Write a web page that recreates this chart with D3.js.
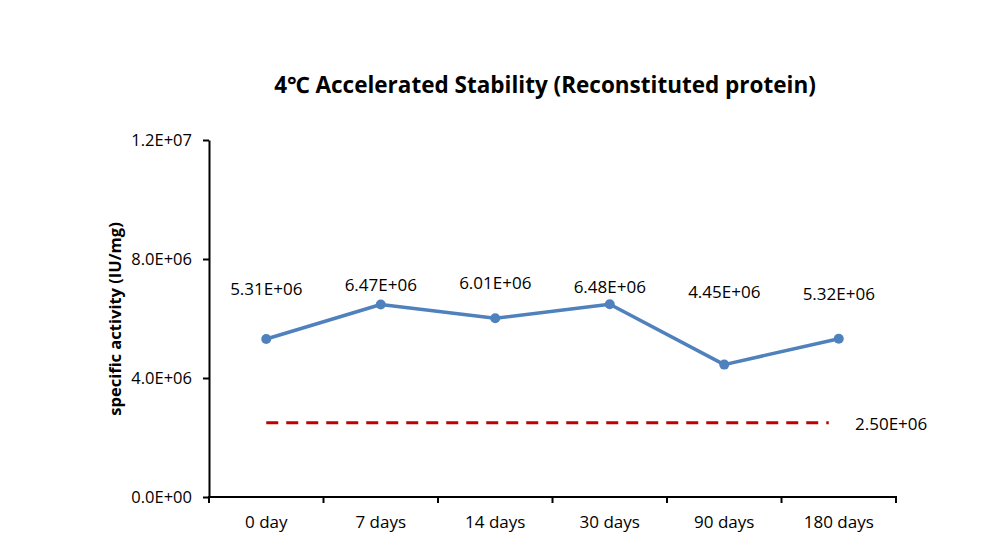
<!DOCTYPE html>
<html><head><meta charset="utf-8">
<script src="https://cdn.jsdelivr.net/npm/d3@7"></script>
<style>
body{margin:0;background:#fff;}
text{font-family:"Open Sans","Noto Sans",sans-serif;fill:#000;}
</style></head>
<body>
<svg id="chart" width="1000" height="558"></svg>
<script>
const categories = ["0 day","7 days","14 days","30 days","90 days","180 days"];
const activity = [5.31e6, 6.47e6, 6.01e6, 6.48e6, 4.45e6, 5.32e6];
const activityLabels = ["5.31E+06","6.47E+06","6.01E+06","6.48E+06","4.45E+06","5.32E+06"];
const threshold = 2.5e6;
const thresholdLabel = "2.50E+06";
const yTicks = [0, 4e6, 8e6, 1.2e7];
const yTickLabels = ["0.0E+00","4.0E+06","8.0E+06","1.2E+07"];
const title = "4\u2103 Accelerated Stability (Reconstituted protein)";
const yTitle = "specific activity (IU/mg)";

// label vertical offsets (px above point) – layout only
const labelDy = [50, 19, 35, 17, 73, 45];

const svg = d3.select("#chart");
const m = {left:209, right:896, top:140, bottom:497};

const x = d3.scaleBand().domain(categories).range([m.left, m.right]);
const y = d3.scaleLinear().domain([0, 1.2e7]).range([m.bottom, m.top]);

// Y axis
const yAxis = d3.axisLeft(y).tickValues(yTicks)
  .tickFormat((d,i)=>yTickLabels[i]).tickSize(6).tickSizeOuter(0);
const gy = svg.append("g").attr("transform",`translate(${m.left},0)`).call(yAxis);
gy.select(".domain").attr("stroke","#000").attr("stroke-width",2);
gy.selectAll(".tick line").attr("stroke","#000").attr("stroke-width",2);
gy.selectAll(".tick text").attr("font-size",16.5).attr("x",-17)
  .style("font-family","'Open Sans',sans-serif");

// X axis
const gx = svg.append("g").attr("transform",`translate(0,${m.bottom})`);
gx.append("line").attr("x1",m.left-1).attr("x2",m.right+1).attr("y1",0).attr("y2",0)
  .attr("stroke","#000").attr("stroke-width",2);
const bounds = categories.map(c=>x(c)).concat([x(categories[categories.length-1])+x.bandwidth()]);
gx.selectAll("line.tk").data(bounds).enter().append("line").attr("class","tk")
  .attr("x1",d=>d).attr("x2",d=>d).attr("y1",0).attr("y2",6)
  .attr("stroke","#000").attr("stroke-width",2);
gx.selectAll("text").data(categories).enter().append("text")
  .attr("x",d=>x(d)+x.bandwidth()/2).attr("y",25).attr("dy","0.35em")
  .attr("text-anchor","middle").attr("font-size",17).text(d=>d);

// Threshold dashed line
const cx = c => x(c)+x.bandwidth()/2;
svg.append("line")
  .attr("x1",cx(categories[0])).attr("x2",cx(categories[categories.length-1])-10)
  .attr("y1",y(threshold)).attr("y2",y(threshold))
  .attr("stroke","#C00000").attr("stroke-width",3).attr("stroke-dasharray","12,8");
svg.append("text").attr("x",855).attr("y",y(threshold)+1).attr("dy","0.35em")
  .attr("font-size",17).text(thresholdLabel);

// Series line
const line = d3.line().x((d,i)=>cx(categories[i])).y(d=>y(d));
svg.append("path").datum(activity).attr("d",line)
  .attr("fill","none").attr("stroke","#4F81BD").attr("stroke-width",3.5)
  .attr("stroke-linejoin","round");
svg.selectAll("circle.pt").data(activity).enter().append("circle").attr("class","pt")
  .attr("cx",(d,i)=>cx(categories[i])).attr("cy",d=>y(d)).attr("r",5)
  .attr("fill","#4F81BD");

// Data labels
svg.selectAll("text.lbl").data(activity).enter().append("text").attr("class","lbl")
  .attr("x",(d,i)=>cx(categories[i])).attr("y",(d,i)=>y(d)-labelDy[i])
  .attr("dy","0.35em").attr("text-anchor","middle").attr("font-size",17)
  .text((d,i)=>activityLabels[i]);

// Title
svg.append("text").attr("x",545).attr("y",85).attr("dy","0.35em")
  .attr("text-anchor","middle").attr("font-size",22.5).attr("font-weight","bold")
  .text(title);

// Y title
svg.append("text").attr("transform","translate(115,319) rotate(-90)")
  .attr("dy","0.35em").attr("text-anchor","middle").attr("font-size",16.5)
  .attr("font-weight","bold").text(yTitle);
</script>
</body></html>
